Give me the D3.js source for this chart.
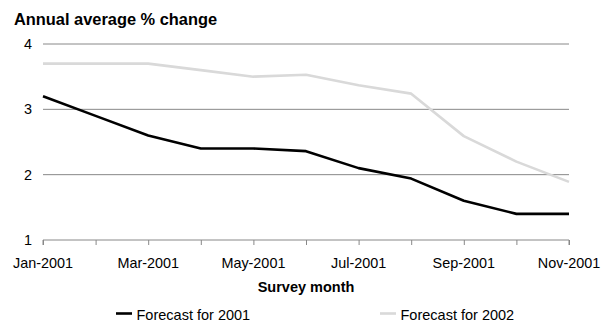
<!DOCTYPE html>
<html>
<head>
<meta charset="utf-8">
<script src="https://cdn.jsdelivr.net/npm/d3@7"></script>
<style>
  body { margin: 0; background: #fff; }
  svg { display: block; font-family: "Liberation Sans", Arial, sans-serif; }
</style>
</head>
<body>
<svg id="chart" width="605" height="322"></svg>
<script>
// Survey months (Jan-2001 .. Nov-2001)
const months = ["Jan-2001","Feb-2001","Mar-2001","Apr-2001","May-2001","Jun-2001",
                "Jul-2001","Aug-2001","Sep-2001","Oct-2001","Nov-2001"];
// Consensus forecasts, annual average % change
const forecast2001 = [3.2, 2.9, 2.6, 2.4, 2.4, 2.36, 2.1, 1.94, 1.6, 1.4, 1.4];
const forecast2002 = [3.7, 3.7, 3.7, 3.6, 3.5, 3.53, 3.37, 3.24, 2.59, 2.2, 1.89];
const yTicks = [1, 2, 3, 4];
const xTickLabels = ["Jan-2001","Mar-2001","May-2001","Jul-2001","Sep-2001","Nov-2001"];
const seriesNames = ["Forecast for 2001", "Forecast for 2002"];
const seriesColors = ["#000000", "#d9d9d9"];

const svg = d3.select("#chart");
const plotLeft = 43, plotRight = 569, plotTop = 44, plotBottom = 240;

const x = d3.scalePoint().domain(months).range([plotLeft, plotRight]);
const y = d3.scaleLinear().domain([1, 4]).range([plotBottom, plotTop]);

// Title
svg.append("text").attr("x", 14).attr("y", 25)
  .attr("font-size", 16.4).attr("font-weight", "bold").attr("fill", "#000")
  .text("Annual average % change");

// Horizontal gridlines
svg.append("g").selectAll("line").data(yTicks.filter(v => v > 1)).join("line")
  .attr("x1", plotLeft).attr("x2", plotRight)
  .attr("y1", d => y(d)).attr("y2", d => y(d))
  .attr("stroke", "#888").attr("stroke-width", 1);

// Y labels
svg.append("g").selectAll("text").data(yTicks).join("text")
  .attr("x", 32).attr("y", d => y(d) + 5)
  .attr("text-anchor", "end").attr("font-size", 14.4).attr("fill", "#000")
  .text(d => d);

// X axis with monthly ticks
const xAxis = d3.axisBottom(x).tickSize(5).tickFormat("");
const gx = svg.append("g").attr("transform", `translate(0,${plotBottom})`).call(xAxis);
gx.select(".domain").attr("stroke", "#888").attr("d", `M${plotLeft},5V0H${plotRight}V5`);
gx.selectAll(".tick line").attr("stroke", "#888");

// X labels every second month
svg.append("g").selectAll("text").data(xTickLabels).join("text")
  .attr("x", d => x(d)).attr("y", 268)
  .attr("text-anchor", "middle").attr("font-size", 14.4).attr("fill", "#000")
  .text(d => d);

// X axis title
svg.append("text").attr("x", 306).attr("y", 292)
  .attr("text-anchor", "middle").attr("font-size", 14.5).attr("font-weight", "bold")
  .text("Survey month");

// Lines
const line = d3.line().x((d, i) => x(months[i])).y(d => y(d));
[forecast2002, forecast2001].forEach((s, k) => {
  svg.append("path").datum(s)
    .attr("fill", "none")
    .attr("stroke", seriesColors[1 - k])
    .attr("stroke-width", 2.6)
    .attr("stroke-linejoin", "round")
    .attr("d", line);
});

// Legend
const legendX = [116, 380];
seriesNames.forEach((name, i) => {
  const g = svg.append("g").attr("transform", `translate(${legendX[i]},313.5)`);
  g.append("line").attr("x1", 0).attr("x2", 16).attr("y1", 0).attr("y2", 0)
    .attr("stroke", seriesColors[i]).attr("stroke-width", 2.6);
  g.append("text").attr("x", 20.5).attr("y", 6.5)
    .attr("font-size", 14.5).attr("fill", "#000").text(name);
});
</script>
</body>
</html>
